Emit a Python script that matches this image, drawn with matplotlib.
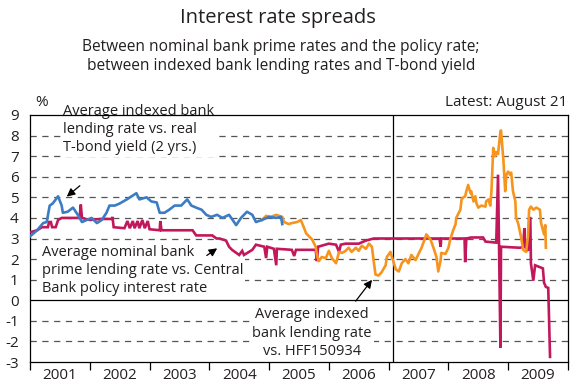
import numpy as np
import matplotlib.pyplot as plt

plt.rcParams['font.family'] = ['Open Sans', 'DejaVu Sans']
plt.rcParams['lines.scale_dashes'] = False

# indexed bank lending rate vs. real T-bond yield (2 yrs.)
blue_x = [2001.00, 2001.12, 2001.22, 2001.28, 2001.33, 2001.38, 2001.47, 2001.53, 2001.55,
          2001.63, 2001.72, 2001.80, 2001.87, 2001.95, 2002.03, 2002.12, 2002.20, 2002.28,
          2002.33, 2002.42, 2002.50, 2002.62, 2002.70, 2002.78, 2002.83, 2002.95, 2003.03,
          2003.12, 2003.17, 2003.25, 2003.33, 2003.42, 2003.53, 2003.63, 2003.70, 2003.78,
          2003.87, 2003.95, 2004.03, 2004.13, 2004.22, 2004.33, 2004.45, 2004.53, 2004.63,
          2004.72, 2004.78, 2004.88, 2005.00, 2005.12, 2005.20, 2005.22]
blue_y = [3.1, 3.4, 3.75, 3.8, 4.6, 4.7, 5.05, 4.6, 4.25,
          4.3, 4.5, 4.15, 3.8, 3.9, 4.0, 3.75, 3.9, 4.25,
          4.6, 4.6, 4.7, 4.9, 5.05, 5.2, 4.9, 5.0, 4.8,
          4.75, 4.25, 4.25, 4.4, 4.6, 4.6, 4.9, 4.6, 4.5,
          4.4, 4.15, 4.05, 4.15, 4.0, 4.15, 3.65, 4.0, 4.3,
          4.15, 3.8, 3.9, 4.05, 4.0, 4.05, 3.7]

# indexed bank lending rate vs. HFF150934
orange_x = [2004.88, 2004.95, 2005.03, 2005.12, 2005.17, 2005.22, 2005.25, 2005.33, 2005.38,
            2005.47, 2005.53, 2005.58, 2005.62, 2005.67, 2005.72, 2005.78, 2005.80, 2005.83,
            2005.88, 2005.95, 2006.00, 2006.05, 2006.12, 2006.17, 2006.22, 2006.28, 2006.33,
            2006.38, 2006.45, 2006.50, 2006.55, 2006.62, 2006.67, 2006.72, 2006.75, 2006.78,
            2006.83, 2006.88, 2006.95, 2006.97, 2007.03, 2007.05, 2007.12, 2007.17, 2007.22,
            2007.28, 2007.33, 2007.38, 2007.45, 2007.50, 2007.55, 2007.62, 2007.63, 2007.70,
            2007.75, 2007.80, 2007.83, 2007.87, 2007.88, 2007.95, 2008.00, 2008.03, 2008.08,
            2008.12, 2008.13, 2008.20, 2008.22, 2008.25, 2008.28, 2008.30, 2008.33, 2008.37,
            2008.38, 2008.42, 2008.45, 2008.47, 2008.50, 2008.55, 2008.62, 2008.63, 2008.67,
            2008.70, 2008.72, 2008.75, 2008.78, 2008.80, 2008.83, 2008.87, 2008.88, 2008.92,
            2008.95, 2008.97, 2009.00, 2009.03, 2009.05, 2009.08, 2009.12, 2009.13, 2009.17,
            2009.22, 2009.25, 2009.30, 2009.33, 2009.35, 2009.38, 2009.42, 2009.47, 2009.53,
            2009.55, 2009.60, 2009.62, 2009.63]
orange_y = [3.9, 4.1, 4.05, 4.15, 4.1, 4.05, 3.8, 3.7, 3.75,
            3.8, 3.9, 3.55, 3.25, 3.1, 2.95, 2.6, 2.2, 1.9,
            2.1, 2.05, 2.4, 2.05, 1.8, 2.35, 2.3, 2.4, 2.55,
            2.35, 2.55, 2.4, 2.65, 2.5, 2.75, 2.6, 1.9, 1.25,
            1.2, 1.35, 1.7, 2.1, 2.35, 2.15, 1.5, 1.4, 1.8,
            2.0, 1.8, 2.2, 1.95, 2.25, 2.55, 3.1, 3.2, 2.95,
            2.55, 2.1, 1.4, 1.95, 2.3, 2.25, 2.55, 2.95, 3.4,
            3.7, 4.0, 4.4, 4.9, 5.0, 5.05, 5.3, 5.6, 5.2,
            5.3, 4.8, 5.05, 4.7, 4.5, 4.6, 4.55, 4.8, 4.9,
            4.6, 5.3, 7.4, 7.0, 7.2, 7.1, 8.2, 8.25, 6.8,
            5.3, 6.1, 6.25, 6.1, 6.2, 5.3, 4.8, 4.05, 3.7,
            3.0, 2.45, 2.35, 3.1, 4.4, 4.55, 4.4, 4.5, 4.4,
            3.75, 3.2, 3.65, 2.55]

# nominal bank prime lending rate vs. Central Bank policy rate
red_x = [2001.00, 2001.12, 2001.20, 2001.30, 2001.32, 2001.35, 2001.37, 2001.43, 2001.47,
         2001.53, 2001.83, 2001.85, 2001.87, 2002.00, 2002.17, 2002.37, 2002.38, 2002.40,
         2002.58, 2002.63, 2002.67, 2002.72, 2002.75, 2002.80, 2002.83, 2002.88, 2002.92,
         2002.97, 2003.00, 2003.17, 2003.18, 2003.20, 2003.72, 2003.78, 2004.05, 2004.12,
         2004.17, 2004.28, 2004.33, 2004.38, 2004.50, 2004.55, 2004.58, 2004.72, 2004.78,
         2004.92, 2004.95, 2004.97, 2005.08, 2005.12, 2005.13, 2005.38, 2005.42, 2005.45,
         2005.78, 2005.80, 2005.82, 2006.00, 2006.12, 2006.17, 2006.20, 2006.28, 2006.50,
         2006.62, 2006.75, 2007.85, 2007.87, 2007.88, 2008.27, 2008.28, 2008.30, 2008.38,
         2008.58, 2008.62, 2008.80, 2008.83, 2008.87, 2008.88, 2009.20, 2009.25, 2009.27,
         2009.28, 2009.33, 2009.37, 2009.38, 2009.42, 2009.45, 2009.58, 2009.60, 2009.63,
         2009.67, 2009.70]
red_y = [3.3, 3.4, 3.55, 3.55, 3.8, 3.8, 3.55, 3.55, 3.9,
         4.0, 4.0, 4.65, 4.0, 3.9, 3.95, 3.95, 4.05, 3.55,
         3.5, 3.85, 3.5, 3.85, 3.5, 3.85, 3.5, 3.9, 3.5,
         3.85, 3.45, 3.4, 3.85, 3.4, 3.4, 3.15, 3.15, 3.0,
         3.0, 2.9, 2.6, 2.45, 2.2, 2.4, 2.2, 2.45, 2.7,
         2.6, 2.05, 2.6, 2.5, 1.7, 2.5, 2.45, 2.15, 2.45,
         2.45, 1.9, 2.6, 2.75, 2.7, 2.35, 2.7, 2.75, 2.75,
         2.9, 3.0, 3.0, 2.6, 3.0, 3.0, 1.85, 3.0, 3.05,
         3.05, 2.85, 2.8, 6.1, -2.3, 2.6, 2.55, 2.6, 3.5,
         2.6, 2.4, 4.05, 1.8, 0.95, 1.7, 1.55, 0.85, 0.65,
         0.6, -2.75]

years = ['2001', '2002', '2003', '2004', '2005', '2006', '2007', '2008', '2009']
yticks = list(range(-3, 10))

fig = plt.figure(figsize=(5.71, 3.85), dpi=100)
ax = fig.add_axes([0.0525, 0.0597, 0.9422, 0.6416])

for v in range(1, 9):
    ax.axhline(v, color='#555555', lw=0.9, dashes=(4.5, 4.0), zorder=1)
for v in (-1, -2):
    ax.axhline(v, color='#555555', lw=0.9, dashes=(4.5, 4.0), zorder=1)
ax.axhline(0, color='black', lw=0.9, zorder=1)
ax.axvline(2007.07, color='black', lw=0.9, zorder=1)

ax.plot(red_x, red_y, color='#c2185b', lw=1.9, zorder=3, solid_joinstyle='miter')
ax.plot(orange_x, orange_y, color='#f7941d', lw=1.9, zorder=4)
ax.plot(blue_x, blue_y, color='#3a7dc4', lw=1.9, zorder=5)

ax.set_xlim(2001, 2009.95)
ax.set_ylim(-3, 9)
ax.set_yticks(yticks)
ax.set_yticklabels([str(t) for t in yticks])
ax.tick_params(axis='y', length=0, pad=8, labelsize=11, colors='#231f20')

ax.set_xticks(np.arange(2001, 2011))
ax.set_xticklabels([])
ax.set_xticks(np.arange(2001.5, 2010), minor=True)
ax.set_xticklabels(years, minor=True)
ax.tick_params(axis='x', which='major', direction='out', length=6, width=0.9)
ax.tick_params(axis='x', which='minor', length=0, pad=4, labelsize=11, colors='#231f20')
for s in ax.spines.values():
    s.set_linewidth(0.9)

bb = dict(facecolor='white', edgecolor='none', pad=1.5)
fs = 10.5
ax.text(2001.55, 8.3, 'Average indexed bank\nlending rate vs. real\nT-bond yield (2 yrs.)',
        fontsize=fs, va='center', ha='left', linespacing=1.3, bbox=bb, zorder=2, color='#231f20')
ax.text(2001.2, 1.45, 'Average nominal bank\nprime lending rate vs. Central\nBank policy interest rate',
        fontsize=fs, va='center', ha='left', linespacing=1.3, bbox=bb, zorder=2, color='#231f20')
ax.text(2005.72, -1.6, 'Average indexed\nbank lending rate\nvs. HFF150934',
        fontsize=fs, va='center', ha='center', linespacing=1.3, bbox=bb, zorder=2, color='#231f20')

arrow = dict(arrowstyle='-|>', color='black', lw=0.9, mutation_scale=12)
ax.annotate('', xy=(2001.58, 4.95), xytext=(2001.87, 5.65), arrowprops=arrow, zorder=6)
ax.annotate('', xy=(2004.17, 2.6), xytext=(2003.92, 2.1), arrowprops=arrow, zorder=6)
ax.annotate('', xy=(2006.75, 1.1), xytext=(2006.42, -0.15), arrowprops=arrow, zorder=6)

fig.text(0.061, 0.735, '%', fontsize=11, color='#231f20', va='center')
fig.text(0.994, 0.735, 'Latest: August 21', fontsize=11, ha='right', va='center', color='#231f20')
fig.text(0.487, 0.953, 'Interest rate spreads', fontsize=14.5, ha='center', va='center', color='#231f20')
fig.text(0.492, 0.853, 'Between nominal bank prime rates and the policy rate;\nbetween indexed bank lending rates and T-bond yield',
         fontsize=11.2, ha='center', va='center', linespacing=1.25, color='#231f20')

fig.savefig('out.png', dpi=100)
